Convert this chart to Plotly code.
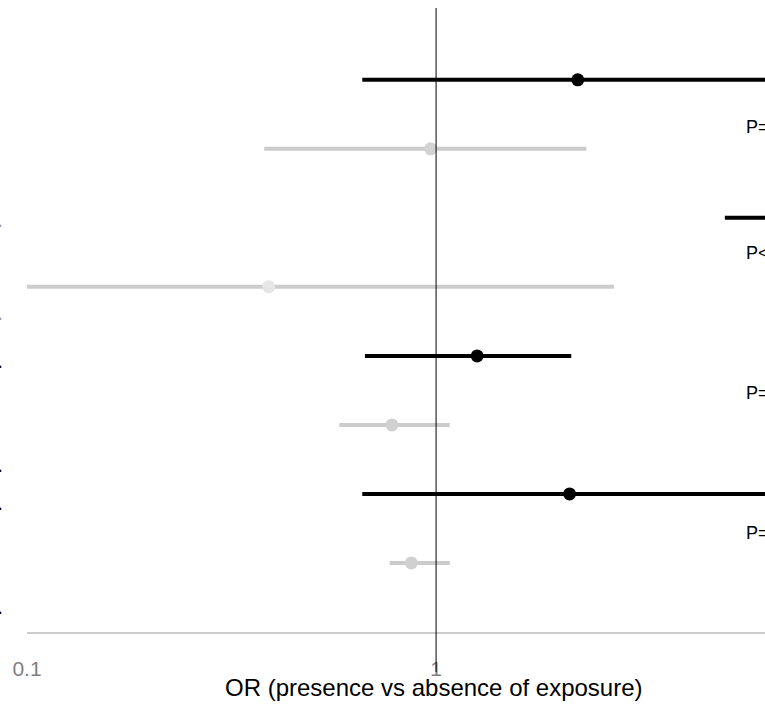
import plotly.graph_objects as go

# ---- data ----
row_pos = [8, 7, 6, 5, 4, 3, 2, 1]                      # top to bottom
group = ["black", "grey", "black", "grey", "black", "grey", "black", "grey"]
or_vals = [2.22, 0.97, 9.0, 0.39, 1.26, 0.78, 2.12, 0.87]
ci_low = [0.66, 0.38, 5.08, 0.09, 0.67, 0.58, 0.66, 0.77]
ci_high = [9.5, 2.33, 20.0, 2.72, 2.14, 1.08, 9.0, 1.08]
marker_colors = ["#000000", "#d3d3d3", "#000000", "#e6e6e6",
                 "#000000", "#d0d0d0", "#000000", "#d0d0d0"]

p_texts = ["P=0.04", "P<0.001", "P=0.17", "P=0.06"]
p_ypos = [7.32, 5.49, 3.46, 1.43]
p_xpos_log = 0.752

edge_marks_y = [5.90, 4.55, 3.86, 2.36, 1.80, 0.29]
edge_marks_col = ["#9a9a9a", "#9a9a9a", "#000000", "#000000", "#000000", "#000000"]

tick_vals = [0.1, 1]
tick_text = ["0.1", "1"]
x_title = "OR (presence vs absence of exposure)"

line_col = {"black": "#000000", "grey": "#cccccc"}

fig = go.Figure()

for g in ["grey", "black"]:
    xs, ys = [], []
    for lo, hi, y, gg in zip(ci_low, ci_high, row_pos, group):
        if gg == g:
            xs += [lo, hi, None]
            ys += [y, y, None]
    fig.add_trace(go.Scatter(x=xs, y=ys, mode="lines",
                             line=dict(color=line_col[g], width=4),
                             hoverinfo="skip", showlegend=False))

fig.add_trace(go.Scatter(x=or_vals, y=row_pos, mode="markers",
                         marker=dict(color=marker_colors, size=13),
                         showlegend=False))

fig.add_shape(type="line", xref="x", yref="paper", x0=1, x1=1,
              y0=-0.064, y1=1, line=dict(color="#000000", width=1))

for t, y in zip(p_texts, p_ypos):
    fig.add_annotation(x=p_xpos_log, xref="x", y=y, yref="y", text=t,
                       showarrow=False, xanchor="left", yanchor="middle",
                       font=dict(family="Liberation Sans, Arial", size=18, color="#000000"))

for y, c in zip(edge_marks_y, edge_marks_col):
    fig.add_annotation(x=-0.036, xref="paper", y=y, yref="y", text=".",
                       showarrow=False, xanchor="center", yanchor="middle", yshift=5,
                       font=dict(family="Liberation Sans, Arial", size=22, color=c))

# axis title (the original panel is cropped on the right, so its title sits right of centre)
fig.add_annotation(x=0.5515, xref="paper", y=-0.0897, yref="paper", text=x_title,
                   showarrow=False, xanchor="center", yanchor="middle",
                   font=dict(family="Liberation Sans, Arial", size=24, color="#000000"))

fig.update_layout(
    width=765, height=704,
    margin=dict(l=27, r=0, t=8, b=72),
    plot_bgcolor="white", paper_bgcolor="white",
    xaxis=dict(type="log", range=[-1, 0.804], tickvals=tick_vals, ticktext=tick_text,
               showgrid=False, zeroline=False, showline=True, linecolor="#cccccc",
               linewidth=2, ticks="outside", ticklen=17, tickcolor="rgba(0,0,0,0)",
               tickfont=dict(family="Liberation Sans, Arial", size=21, color="#7f7f7f")),
    yaxis=dict(range=[0, 9.04], showgrid=False, zeroline=False, showticklabels=False,
               showline=False),
)

fig.write_html("out.html", config={"displayModeBar": False},
               post_script="document.body.style.margin='0';document.body.style.overflow='hidden';")
